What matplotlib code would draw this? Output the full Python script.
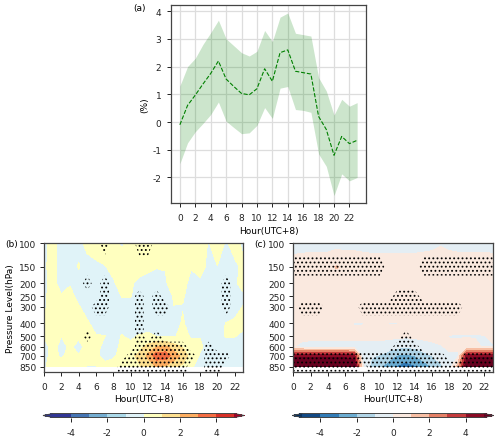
import numpy as np
import matplotlib
matplotlib.use("Agg")
import matplotlib.pyplot as plt

W, H = 500, 439
hours = list(range(24))
levels_hpa = [100, 150, 200, 250, 300, 400, 500, 600, 700, 850, 925]
pressure_ticks = [100, 150, 200, 250, 300, 400, 500, 600, 700, 850]

# panel (a)
line_mean = [-0.1, 0.6, 0.97, 1.37, 1.75, 2.2, 1.55, 1.28, 1.03, 0.98, 1.2, 1.92,
             1.47, 2.5, 2.6, 1.83, 1.78, 1.73, 0.2, -0.27, -1.2, -0.52, -0.78, -0.66]
line_upper = [1.3, 2.0, 2.3, 2.8, 3.22, 3.67, 3.0, 2.75, 2.5, 2.38, 2.55, 3.3,
              2.9, 3.78, 3.93, 3.2, 3.15, 3.1, 1.6, 1.12, 0.25, 0.82, 0.57, 0.7]
line_lower = [-1.5, -0.75, -0.35, -0.05, 0.27, 0.72, 0.03, -0.2, -0.42, -0.39, -0.12, 0.52,
              0.13, 1.22, 1.28, 0.45, 0.42, 0.35, -1.15, -1.6, -2.65, -1.87, -2.12, -2.0]

# panel (b) rows
b100 = [-.2, .3, -.3, -.4, -.2, .2, .4, .5, .2, -.1, .3, .4, .5, .5, .5, .6, .5, .4, .3, -.05, .4, -.1, .3, -.2]
b150 = [-.1, .2, -.3, -.3, .05, -.3, -.2, -.05, .2, .4, .4, .3, .15, .05, .03, .4, .2, .02, .3, -.2, -.02, -.3, -.2, .2]
b200 = [-.1, .15, -.2, -.05, -.3, -.6, -.5, -.7, -.1, .3, .1, -.2, -.3, -.5, -.1, .4, .1, -.1, -.2, -.3, -.3, -.6, -.1, .2]
b250 = [-.1, .2, .05, .2, -.2, -.4, -.5, -.7, -.6, .05, .05, -.6, -.4, -.6, -.5, .1, .05, -.2, -.2, -.3, -.4, -.7, -.3, -.1]
b300 = [-.1, .2, .3, .3, .05, -.3, -.7, -.7, -.5, -.5, -.5, -.7, -.5, -.7, -.6, -.02, -.02, -.3, -.3, -.3, -.3, -.6, -.2, .02]
b400 = [.2, .3, .3, .3, .2, .1, -.3, -.3, -.3, -.3, -.3, -.6, -.3, -.3, -.3, -.2, .05, -.2, -.2, -.2, -.2, .02, .1, .1]
b500 = [.02, .2, .01, .2, .1, .3, .05, .02, -.3, .05, -.2, .1, .15, -.02, -.05, -.1, .3, -.1, -.02, -.2, -.2, .05, .02, -.1]
b600 = [-.2, .2, -.2, .1, -.2, .2, .2, -.2, -.3, .2, .3, .7, 1.3, 2.0, 2.2, 1.4, .9, .3, .1, -.2, -.3, -.3, -.2, -.2]
b700 = [-.2, .2, -.1, .2, .02, .3, .1, -.2, -.1, .2, .8, 1.2, 2.2, 3.6, 3.6, 2.6, 1.7, .5, -.05, -.3, -.3, -.3, -.3, -.3]
b850 = [-.1, .3, .3, .3, .15, -.05, -.02, .2, .3, .5, .7, .9, 1.4, 2.0, 1.8, 1.2, .7, .1, -.3, -.4, -.4, -.4, -.4, -.4]

# panel (c) rows
c100 = [-.6, -.5, -.4, -.4, -.4, -.3, -.3, -.3, -.4, -.5, -.5, -.5, -.5, -.5, -.5, -.4, -.3, -.1, -.3, -.4, -.4, -.4, -.4, -.5]
c150 = [.8, .8, .8, .8, .8, 1.05, .8, .8, .8, .8, .8, .8, .8, .8, .8, .8, .8, .8, .8, .8, .8, .8, .8, .8]
c200 = [.6, .6, .6, .6, .6, .6, .6, .6, .6, .6, .6, .6, .6, .6, .6, .6, .6, .6, .6, .6, .6, .6, .6, .6]
c250 = [.5, .5, .5, .5, .5, .5, .5, .5, .5, .5, .5, .6, .6, .6, .6, .5, .5, .5, .5, .5, .5, .5, .5, .5]
c300 = [.5, .5, .5, .5, .5, .5, .5, .5, .5, .5, .5, .5, .5, .5, .5, .5, .5, .5, .5, .5, .5, .5, .5, .5]
c400 = [.2, .2, .2, .2, -.02, .2, .2, -.03, -.03, .2, .2, -.02, -.02, .2, .2, .2, .2, .2, .2, .2, .2, .2, .2, .2]
c500 = [.2, .2, .2, .2, .2, .2, .2, .2, .2, .2, .2, .2, .2, .15, .2, .2, .2, .2, -.02, -.03, -.03, -.03, -.02, .1]
c600 = [.02, -.2, -.3, -.3, -.3, -.3, -.3, -.3, -.3, -.3, -.3, -.5, -.8, -.9, -.8, -.4, -.2, -.05, .1, .1, .3, .1, -.05, -.05]
c700 = [4.8, 4.8, 4.8, 4.8, 4.8, 4.8, 4.8, 4.5, -.6, -.9, -1.1, -1.6, -2.1, -2.3, -2.0, -1.5, -1.0, -.6, -.1, -.1, 4.5, 4.8, 4.8, 4.8]
c850 = [6, 6, 6, 6, 6, 6, 6, 6, .2, -1.3, -1.9, -2.5, -3.2, -3.6, -3.2, -2.6, -2.0, -1.2, -.5, 1.5, 6, 6, 6, 6]

# significant hours per level
sb100 = [7, 11, 12]
sb150 = []
sb200 = [5, 7, 21]
sb250 = [7, 11, 13, 21]
sb300 = [6, 7, 11, 13, 14, 21]
sb400 = [11]
sb500 = [5, 11, 13]
sb600 = [11, 12, 13, 14, 15, 16, 19]
sb700 = [10, 11, 12, 13, 14, 15, 16, 17, 19, 20, 21]
sb850 = [9, 10, 11, 12, 13, 14, 15, 16, 19, 20]
sb925 = [9, 10, 11, 12, 13, 14, 15, 16, 19, 20]

sc100 = []
sc150 = [0, 1, 2, 3, 4, 5, 6, 7, 8, 9, 10, 15, 16, 17, 18, 19, 20, 21, 22, 23]
sc200 = []
sc250 = [12, 13, 14]
sc300 = [1, 2, 3, 8, 9, 10, 11, 12, 13, 14, 15, 16, 17, 18, 19]
sc400 = []
sc500 = [13]
sc600 = [12, 13, 14]
sc700 = [0, 1, 2, 3, 4, 5, 6, 7, 8, 9, 10, 11, 12, 13, 14, 15, 16, 17, 20, 21, 22, 23]
sc850 = [0, 1, 2, 3, 4, 5, 6, 7, 9, 10, 11, 12, 13, 14, 15, 16, 17, 18, 19, 20, 21, 22, 23]
sc925 = [0, 1, 2, 3, 4, 5, 6, 7, 9, 10, 11, 12, 13, 14, 15, 16, 17, 18, 19, 20, 21, 22, 23]

colors_b = ["#313695", "#313695", "#4575b4", "#74add1", "#abd9e9", "#e0f3f8",
            "#ffffbf", "#fee090", "#fdae61", "#f46d43", "#d73027", "#a50026"]

plt.rcParams.update({"font.size": 6.5, "hatch.linewidth": 0.8, "axes.linewidth": 0.9,
                     "axes.edgecolor": "#444444", "xtick.major.width": 0.7,
                     "ytick.major.width": 0.7, "xtick.color": "#222222", "ytick.color": "#222222"})
fig = plt.figure(figsize=(W / 100, H / 100), dpi=100)


def box(l, t, r, b):
    return [l / W, 1 - b / H, (r - l) / W, (b - t) / H]


# (a)
ax = fig.add_axes(box(171, 5.7, 366, 204))
ax.fill_between(hours, line_lower, line_upper, color="green", alpha=0.2, lw=0)
ax.plot(hours, line_mean, color="green", ls="--", lw=0.8)
ax.grid(True, color="#dddddd", lw=0.9)
ax.set_axisbelow(True)
ax.set_xlim(-1.15, 24.15)
ax.set_ylim(-2.92, 4.23)
ax.set_xticks(range(0, 24, 2))
ax.set_yticks(range(-2, 5))
ax.set_yticklabels(["-2", "-1", "0", "1", "2", "3", "4"])
ax.set_xlabel("Hour(UTC+8)", labelpad=3)
ax.set_ylabel("(%)", labelpad=2)
ax.tick_params(axis="x", length=3, pad=4)
ax.tick_params(axis="y", length=3, pad=4)
fig.text(133 / W, 1 - 8 / H, "(a)", ha="left", va="center", fontsize=6.5)


def stipple_grid(rows):
    g = np.zeros((len(rows), 24))
    for i, r in enumerate(rows):
        g[i, r] = 1
    return g


def panel(rect, rows, sig_rows, label, label_x, ylabel, cmap=None, colors=None):
    a = fig.add_axes(box(*rect))
    z = np.array(rows + [[np.nan] * 24], dtype=float)
    cf = a.contourf(hours, levels_hpa, z, levels=np.arange(-5, 6, 1), cmap=cmap, colors=colors,
                    extend="both")
    a.contourf(hours, levels_hpa, stipple_grid(sig_rows), levels=[0.5, 1.5], colors="none",
               hatches=["...."])
    a.set_yscale("log")
    a.set_xlim(0, 23)
    a.set_ylim(925, 100)
    a.set_xticks(range(0, 24, 2))
    a.set_yticks(pressure_ticks)
    a.set_yticklabels([str(p) for p in pressure_ticks])
    a.minorticks_off()
    a.set_xlabel("Hour(UTC+8)", labelpad=2)
    if ylabel:
        a.set_ylabel("Pressure Level(hPa)", labelpad=3)
    a.tick_params(axis="x", length=3, pad=4.5)
    a.tick_params(axis="y", length=3, pad=2.5)
    fig.text(label_x / W, 1 - 245 / H, label, ha="left", va="center", fontsize=6.5)
    cax = fig.add_axes(box(rect[0] - 1, 414.5, rect[2] + 1, 418.5))
    cb = fig.colorbar(cf, cax=cax, orientation="horizontal", extendfrac=0.055)
    cb.set_ticks([-4, -2, 0, 2, 4])
    cb.set_ticklabels(["-4", "-2", "0", "2", "4"])
    cb.ax.tick_params(length=3, pad=4.5)
    cb.outline.set_linewidth(0.7)


panel((44, 244.3, 243.3, 372.7),
      [b100, b150, b200, b250, b300, b400, b500, b600, b700, b850],
      [sb100, sb150, sb200, sb250, sb300, sb400, sb500, sb600, sb700, sb850, sb925],
      "(b)", 5, True, colors=colors_b)
panel((293.3, 244.3, 492.7, 372.7),
      [c100, c150, c200, c250, c300, c400, c500, c600, c700, c850],
      [sc100, sc150, sc200, sc250, sc300, sc400, sc500, sc600, sc700, sc850, sc925],
      "(c)", 254, False, cmap="RdBu_r")

fig.savefig("out.png", dpi=100)
